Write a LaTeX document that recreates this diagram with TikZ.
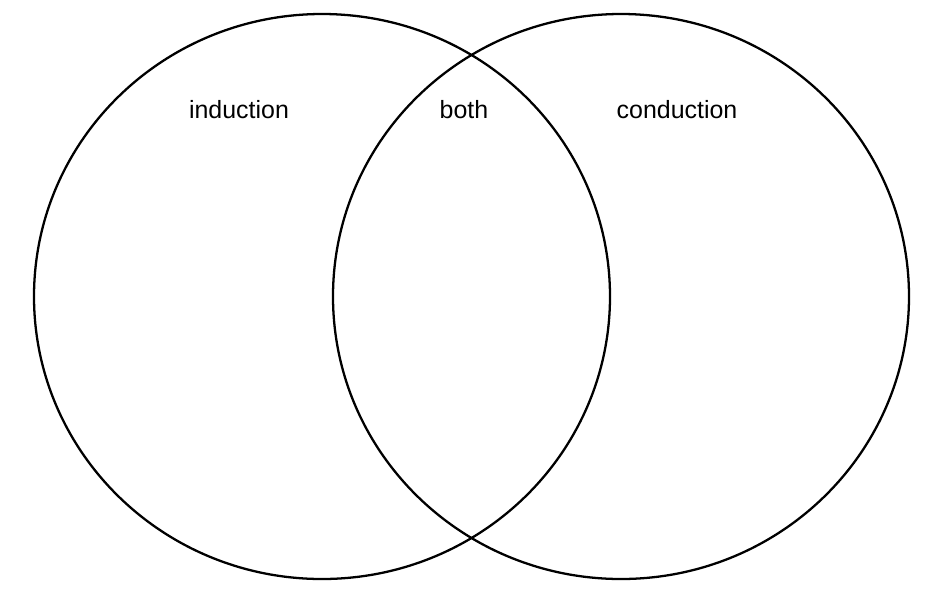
\documentclass[tikz,border=0pt]{standalone}
\usepackage{fontspec}
\setmainfont{Liberation Sans}
\begin{document}
\begin{tikzpicture}[x=0.02cm, y=-0.02cm, line width=1.3pt]

    % batas gambar
    \useasboundingbox (0,0) rectangle (941,593);

    % dua lingkaran
    \coordinate (kiri) at (322,296.5);
    \coordinate (kanan) at (621,296.5);
    \draw (kiri) ellipse [x radius=288, y radius=282.5];
    \draw (kanan) ellipse [x radius=288, y radius=282.5];

    % label
    \node[anchor=base, font=\fontsize{14.2}{17}\selectfont] (ind) at (239,118) {induction};
    \node[anchor=base, font=\fontsize{14.2}{17}\selectfont] (both) at (464,118) {both};
    \node[anchor=base, font=\fontsize{14.2}{17}\selectfont] (kon) at (677,118) {conduction};

\end{tikzpicture}
\end{document}
